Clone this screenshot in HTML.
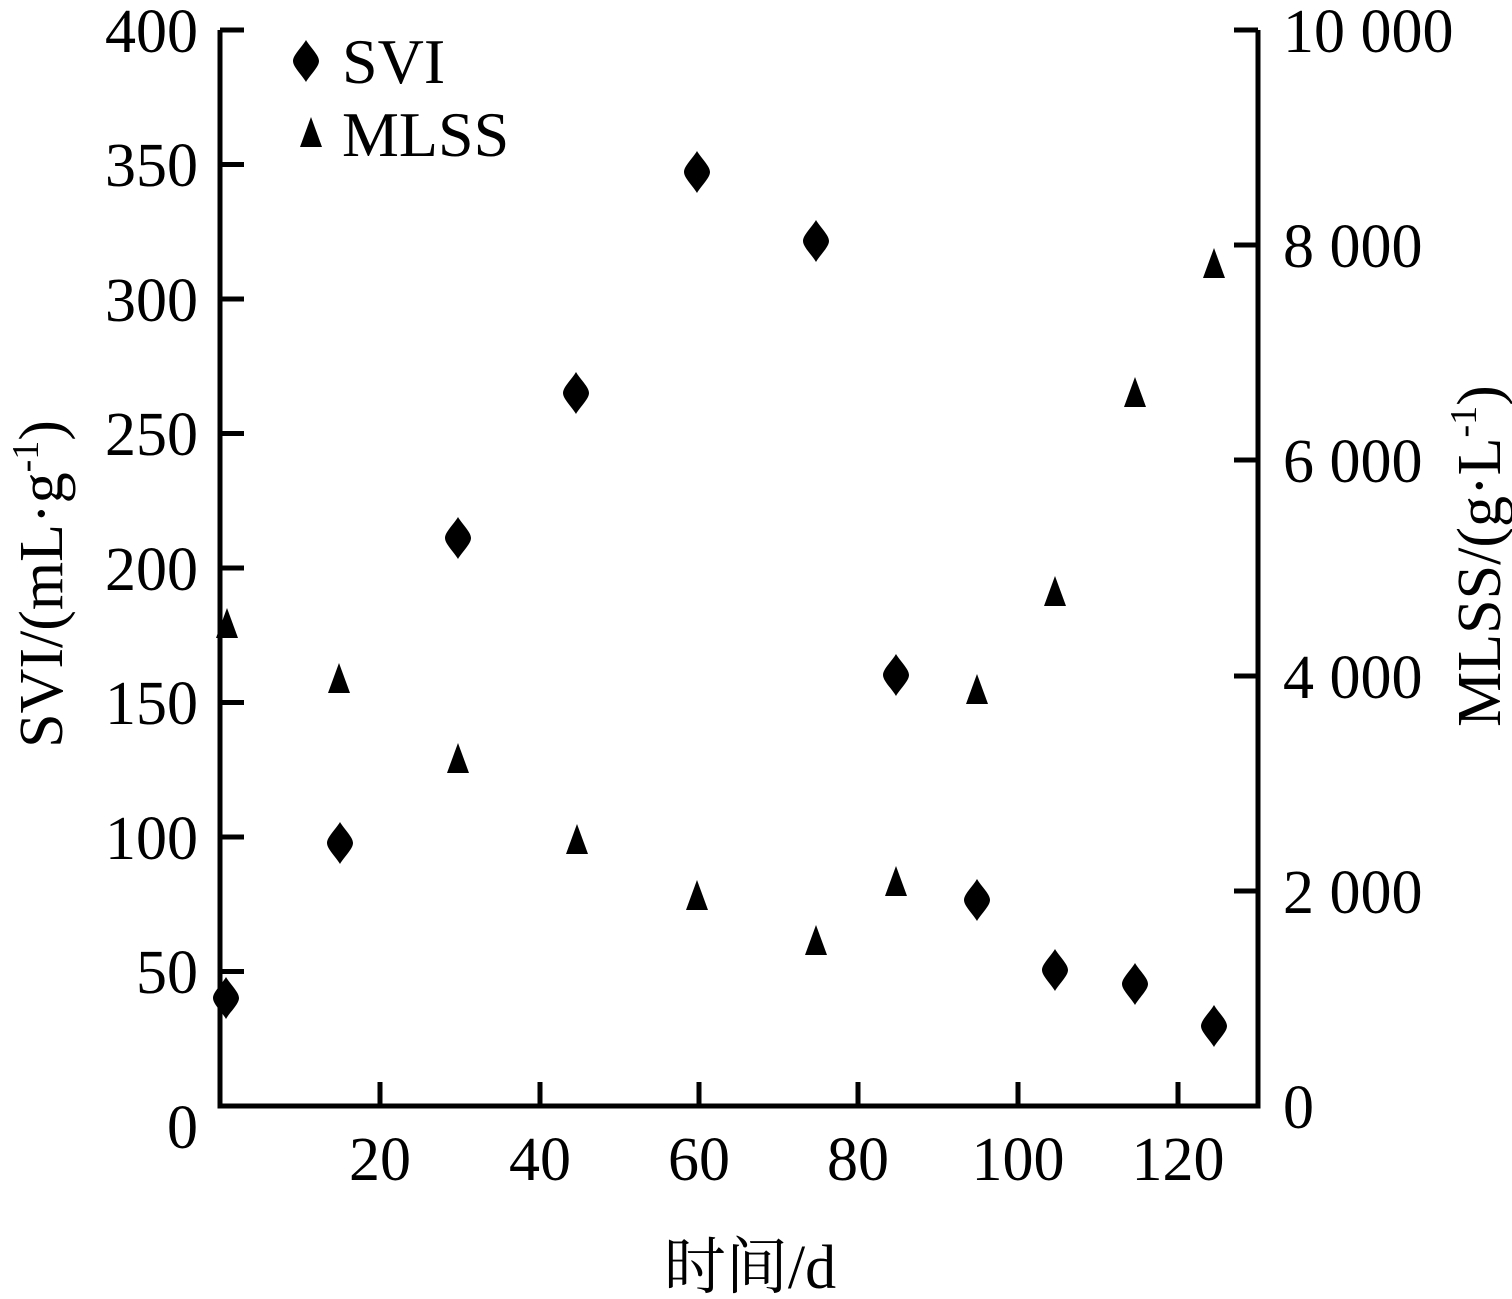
<!DOCTYPE html>
<html><head><meta charset="utf-8"><style>body{margin:0;background:#fff}svg{display:block}</style></head>
<body>
<svg width="1512" height="1299" xmlns="http://www.w3.org/2000/svg" font-family="Liberation Serif, 'Noto Serif CJK SC', serif" fill="#000">
<defs>
<path id="d" d="M0,-21 C4,-14 13,-6 13,0 C13,6 4,14 0,21 C-4,14 -13,6 -13,0 C-13,-6 -4,-14 0,-21Z"/>
<path id="t" d="M0,-16 L11,14 L-11,14Z"/>
</defs>
<g stroke="#000" stroke-width="5" fill="none">
<path d="M220,30 V1106 H1258 V30"/>
<path d="M220,30 h24 M220,164.5 h24 M220,299 h24 M220,433.5 h24 M220,568 h24 M220,702.5 h24 M220,837 h24 M220,971.5 h24"/>
<path d="M1258,30 h-24 M1258,245 h-24 M1258,460 h-24 M1258,676 h-24 M1258,891 h-24"/>
<path d="M380,1106 v-24 M540,1106 v-24 M699,1106 v-24 M858,1106 v-24 M1018,1106 v-24 M1178,1106 v-24"/>
</g>
<g font-size="62" text-anchor="end">
<text x="198" y="52">400</text><text x="198" y="186">350</text><text x="198" y="321">300</text>
<text x="198" y="455">250</text><text x="198" y="590">200</text><text x="198" y="724">150</text>
<text x="198" y="859">100</text><text x="198" y="993">50</text><text x="198" y="1148">0</text>
</g>
<g font-size="62" text-anchor="start">
<text x="1283" y="52">10 000</text><text x="1283" y="267">8 000</text><text x="1283" y="482">6 000</text>
<text x="1283" y="698">4 000</text><text x="1283" y="913">2 000</text><text x="1283" y="1128">0</text>
</g>
<g font-size="62" text-anchor="middle">
<text x="380" y="1180">20</text><text x="540" y="1180">40</text><text x="699" y="1180">60</text>
<text x="858" y="1180">80</text><text x="1018" y="1180">100</text><text x="1178" y="1180">120</text>
<text x="750" y="1288">时间/d</text>
</g>
<text transform="translate(62,584) rotate(-90)" font-size="62" text-anchor="middle">SVI/(mL·g<tspan dy="-24" font-size="38">-1</tspan><tspan dy="24">)</tspan></text>
<text transform="translate(1500,556) rotate(-90)" font-size="62" text-anchor="middle">MLSS/(g·L<tspan dy="-24" font-size="38">-1</tspan><tspan dy="24">)</tspan></text>
<use href="#d" x="306" y="61"/><text x="342" y="83" font-size="64">SVI</text>
<use href="#t" x="311" y="133"/><text x="342" y="156" font-size="64">MLSS</text>
<g>
<use href="#d" x="226" y="998"/><use href="#d" x="340" y="843"/><use href="#d" x="458" y="538"/>
<use href="#d" x="576" y="393"/><use href="#d" x="697" y="172"/><use href="#d" x="816" y="241"/>
<use href="#d" x="896" y="675"/><use href="#d" x="977" y="900"/><use href="#d" x="1055" y="970"/>
<use href="#d" x="1135" y="984"/><use href="#d" x="1214" y="1026"/>
</g>
<g>
<use href="#t" x="227" y="624"/><use href="#t" x="339" y="679"/><use href="#t" x="458" y="759"/>
<use href="#t" x="577" y="840"/><use href="#t" x="697" y="896"/><use href="#t" x="816" y="941"/>
<use href="#t" x="896" y="882"/><use href="#t" x="977" y="690"/><use href="#t" x="1055" y="592"/>
<use href="#t" x="1135" y="393"/><use href="#t" x="1214" y="264"/>
</g>
</svg>
</body></html>
